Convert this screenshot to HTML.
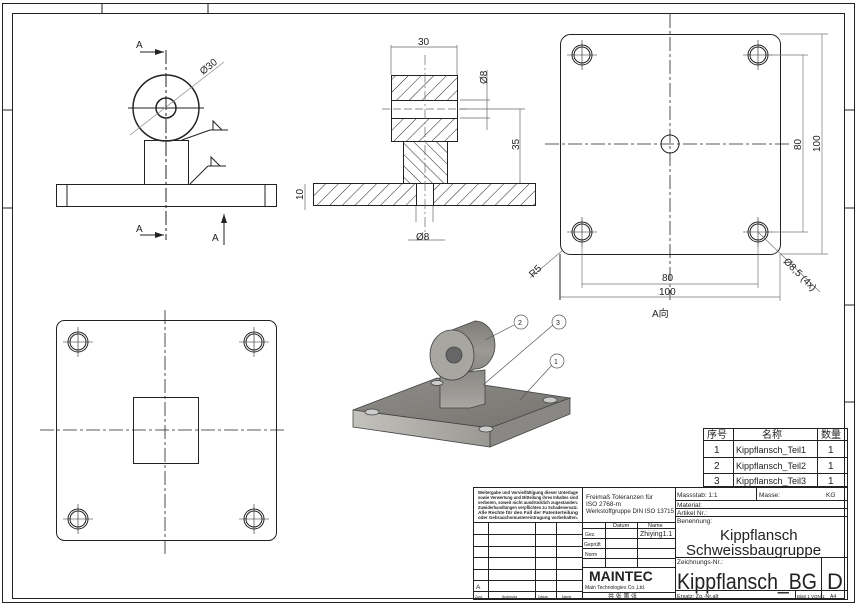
<!DOCTYPE html>
<html><head><meta charset="utf-8"><style>
html,body{margin:0;padding:0;background:#fff}
svg{display:block}
text{font-family:"Liberation Sans","Noto Sans CJK SC",sans-serif;fill:#222}
</style></head><body>
<svg width="858" height="605" viewBox="0 0 858 605" xmlns="http://www.w3.org/2000/svg">
<defs>
<pattern id="h" width="9" height="9" patternUnits="userSpaceOnUse" patternTransform="rotate(45)"><line x1="0" y1="0" x2="0" y2="9" stroke="#222" stroke-width="1"/></pattern>
<pattern id="h2" width="8" height="8" patternUnits="userSpaceOnUse" patternTransform="rotate(-45)"><line x1="0" y1="0" x2="0" y2="8" stroke="#222" stroke-width="1"/></pattern>
<linearGradient id="g1" x1="0" y1="0" x2="1" y2="1"><stop offset="0" stop-color="#8f8d89"/><stop offset="1" stop-color="#76746f"/></linearGradient>
<linearGradient id="g2" x1="0" y1="0" x2="1" y2="0"><stop offset="0" stop-color="#c4c2bd"/><stop offset="1" stop-color="#9a9893"/></linearGradient>
<linearGradient id="g3" x1="0" y1="0" x2="0" y2="1"><stop offset="0" stop-color="#8a8884"/><stop offset="1" stop-color="#a9a7a2"/></linearGradient>
<linearGradient id="g4" x1="0" y1="0" x2="0" y2="1"><stop offset="0" stop-color="#7e7c78"/><stop offset=".5" stop-color="#9c9a95"/><stop offset="1" stop-color="#85837f"/></linearGradient>
<g id="hs" fill="none" stroke="#222"><circle r="10"/><circle r="8"/><line x1="-15" y1="0" x2="15" y2="0" stroke-width=".6"/><line x1="0" y1="-15" x2="0" y2="15" stroke-width=".6"/></g>
</defs>
<g fill="none" stroke="#222" stroke-width="1">
<rect x="2.5" y="3.5" width="852" height="599"/>
<rect x="12.5" y="13.5" width="832" height="585"/>
<line x1="102" y1="4" x2="102" y2="13"/><line x1="208" y1="4" x2="208" y2="13"/>
<line x1="3" y1="110" x2="12" y2="110"/><line x1="3" y1="208" x2="12" y2="208"/>
<line x1="845" y1="110" x2="854" y2="110"/><line x1="845" y1="208" x2="854" y2="208"/><line x1="845" y1="305" x2="854" y2="305"/><line x1="845" y1="402" x2="854" y2="402"/>
</g>
<!-- front view -->
<g fill="none" stroke="#222" stroke-width="1">
<circle cx="166" cy="108" r="33" stroke-width="1.5"/>
<circle cx="166" cy="108" r="10" stroke-width="1.5"/>
<line x1="128" y1="108" x2="204" y2="108"/>
<line x1="166" y1="50" x2="166" y2="240" stroke-dasharray="14,3,3,3"/>
<rect x="144.5" y="140.5" width="44" height="44"/>
<rect x="56.5" y="184.5" width="220" height="22"/>
<line x1="67" y1="185" x2="67" y2="206"/><line x1="265" y1="185" x2="265" y2="206"/>
<line x1="130" y1="135" x2="224" y2="62" stroke="#888" stroke-width=".7"/>
<line x1="140" y1="52" x2="164" y2="52"/><line x1="140" y1="235" x2="164" y2="235"/>
<line x1="224" y1="214" x2="224" y2="245"/>
<line x1="182" y1="140" x2="210" y2="130"/><line x1="210" y1="130" x2="228" y2="130"/><path d="M213 130 L213 121 L222 130"/>
<line x1="190" y1="184" x2="208" y2="166"/><line x1="208" y1="166" x2="226" y2="166"/><path d="M211 166 L211 157 L220 166"/>
</g>
<path d="M155 49 L164 52 L155 55Z M155 232 L164 235 L155 238Z M221 223 L224 214 L227 223Z" fill="#222"/>
<text x="136" y="48" font-size="10">A</text><text x="136" y="232" font-size="10">A</text><text x="212" y="241" font-size="10">A</text>
<text x="203" y="75" font-size="10" fill="#666" transform="rotate(-38 203 75)">Ø30</text>
<!-- section view -->
<g stroke="#222" stroke-width="1">
<rect x="391.5" y="75.5" width="66" height="66" fill="url(#h)"/>
<rect x="391.5" y="100.5" width="66" height="18" fill="#fff"/>
<rect x="403.5" y="141.5" width="44" height="42" fill="url(#h2)"/>
<rect x="313.5" y="183.5" width="222" height="22" fill="url(#h)"/>
<rect x="416.5" y="183.5" width="17" height="22" fill="#fff"/>
</g>
<g fill="none" stroke="#666" stroke-width=".7">
<line x1="391" y1="45" x2="391" y2="75"/><line x1="457" y1="45" x2="457" y2="75"/><line x1="391" y1="47" x2="457" y2="47"/>
<line x1="425" y1="55" x2="425" y2="240" stroke-dasharray="10,3,2,3"/>
<line x1="382" y1="109" x2="470" y2="109" stroke-dasharray="8,3"/>
<line x1="460" y1="100" x2="490" y2="100"/><line x1="460" y1="118" x2="490" y2="118"/><line x1="487" y1="70" x2="487" y2="130"/>
<line x1="460" y1="109" x2="525" y2="109"/><line x1="520" y1="109" x2="520" y2="183"/>
<line x1="305" y1="184" x2="305" y2="210"/>
<line x1="416" y1="206" x2="416" y2="222"/><line x1="433" y1="206" x2="433" y2="222"/><line x1="408" y1="240" x2="445" y2="240"/>
</g>
<text x="418" y="45" font-size="10" fill="#444">30</text>
<text x="487" y="84" font-size="10" fill="#444" transform="rotate(-90 487 84)">Ø8</text>
<text x="519" y="150" font-size="10" fill="#444" transform="rotate(-90 519 150)">35</text>
<text x="303" y="200" font-size="10" fill="#444" transform="rotate(-90 303 200)">10</text>
<text x="416" y="240" font-size="10" fill="#444">Ø8</text>
<!-- A view -->
<g fill="none" stroke="#222" stroke-width="1">
<rect x="560.5" y="34.5" width="220" height="220" rx="10"/>
<circle cx="670" cy="144" r="9"/>
<use href="#hs" x="582" y="55"/><use href="#hs" x="758" y="55"/><use href="#hs" x="582" y="232"/><use href="#hs" x="758" y="232"/>
<line x1="670" y1="14" x2="670" y2="300" stroke-dasharray="14,3,3,3" stroke-width=".8"/>
<line x1="545" y1="144" x2="792" y2="144" stroke-dasharray="14,3,3,3" stroke-width=".8"/>
<line x1="560" y1="254" x2="560" y2="300"/>
</g>
<g fill="none" stroke="#777" stroke-width=".7">
<line x1="770" y1="55" x2="808" y2="55"/><line x1="770" y1="232" x2="808" y2="232"/><line x1="803" y1="55" x2="803" y2="232"/>
<line x1="780" y1="34" x2="828" y2="34"/><line x1="780" y1="254" x2="828" y2="254"/><line x1="822" y1="34" x2="822" y2="254"/>
<line x1="582" y1="245" x2="582" y2="288"/><line x1="758" y1="245" x2="758" y2="288"/><line x1="582" y1="284" x2="758" y2="284"/>
<line x1="780" y1="254" x2="780" y2="301"/><line x1="560" y1="297" x2="780" y2="297"/>
<line x1="758" y1="232" x2="820" y2="292"/><line x1="530" y1="278" x2="563" y2="250"/>
</g>
<text x="662" y="281" font-size="10" fill="#444">80</text><text x="659" y="295" font-size="10" fill="#444">100</text>
<text x="801" y="150" font-size="10" fill="#444" transform="rotate(-90 801 150)">80</text>
<text x="820" y="152" font-size="10" fill="#444" transform="rotate(-90 820 152)">100</text>
<text x="783" y="262" font-size="10" fill="#444" transform="rotate(45 783 262)">Ø8,5 (4x)</text>
<text x="533" y="278" font-size="10" fill="#444" transform="rotate(-45 533 278)">R5</text>
<text x="652" y="317" font-size="10">A向</text>
<!-- top view -->
<g fill="none" stroke="#222" stroke-width="1">
<rect x="56.5" y="320.5" width="220" height="220" rx="8"/>
<rect x="133.5" y="397.5" width="65" height="66"/>
<use href="#hs" x="78" y="342"/><use href="#hs" x="254" y="342"/><use href="#hs" x="78" y="519"/><use href="#hs" x="254" y="519"/>
<line x1="165" y1="310" x2="165" y2="555" stroke-dasharray="14,3,3,3" stroke-width=".8"/>
<line x1="40" y1="430" x2="285" y2="430" stroke-dasharray="14,3,3,3" stroke-width=".8"/>
</g>
<!-- iso view -->
<g stroke="#444" stroke-width=".8">
<path d="M353 410 L437 378 L570 398 L490 428 Z" fill="url(#g1)"/>
<path d="M353 410 L490 428 L490 447 L353 427 Z" fill="url(#g2)"/>
<path d="M490 428 L570 398 L570 414 L490 447 Z" fill="#8a8884"/>
<path d="M440 375 L485 370 L485 404 L470 408 L440 408 Z" fill="url(#g3)"/>
<path d="M452 330 L475 321 A20 24 0 0 1 475 369 L452 380 Z" fill="url(#g4)"/>
<ellipse cx="452" cy="355" rx="22" ry="25" fill="#a8a6a1"/>
<circle cx="454" cy="355" r="8" fill="#666"/>
<ellipse cx="372" cy="412" rx="7" ry="3" fill="#ccc"/><ellipse cx="437" cy="383" rx="6" ry="2.5" fill="#ccc"/><ellipse cx="550" cy="400" rx="7" ry="3" fill="#ccc"/><ellipse cx="486" cy="429" rx="7" ry="3" fill="#ccc"/>
</g>
<g fill="#fff" stroke="#555" stroke-width=".7">
<line x1="485" y1="340" x2="514" y2="325"/><line x1="483" y1="385" x2="553" y2="325"/><line x1="520" y1="400" x2="552" y2="365"/>
<circle cx="521" cy="322" r="7"/><circle cx="559" cy="322" r="7"/><circle cx="557" cy="361" r="7"/>
</g>
<text x="518" y="325" font-size="7">2</text><text x="556" y="325" font-size="7">3</text><text x="554" y="364" font-size="7">1</text>
<!-- BOM -->
<g fill="none" stroke="#222" stroke-width="1">
<rect x="703.5" y="428.5" width="144" height="58"/>
<line x1="703" y1="440.5" x2="848" y2="440.5"/><line x1="703" y1="457.5" x2="848" y2="457.5"/><line x1="703" y1="473.5" x2="848" y2="473.5"/>
<line x1="733.5" y1="428" x2="733.5" y2="487"/><line x1="817.5" y1="428" x2="817.5" y2="487"/>
</g>
<g font-size="10">
<text x="707" y="438">序号</text><text x="762" y="438">名称</text><text x="821" y="438">数量</text>
<text x="714" y="453">1</text><text x="736" y="453" font-size="9">Kippflansch_Teil1</text><text x="828" y="453">1</text>
<text x="714" y="469">2</text><text x="736" y="469" font-size="9">Kippflansch_Teil2</text><text x="828" y="469">1</text>
<text x="714" y="484">3</text><text x="736" y="484" font-size="9">Kippflansch_Teil3</text><text x="828" y="484">1</text>
</g>
<!-- title block -->
<g fill="none" stroke="#222" stroke-width="1">
<rect x="473.5" y="487.5" width="374" height="112"/>
<line x1="582.5" y1="487" x2="582.5" y2="600"/><line x1="675.5" y1="487" x2="675.5" y2="600"/>
<line x1="473" y1="522.5" x2="582" y2="522.5"/>
<line x1="473" y1="534.5" x2="582" y2="534.5"/><line x1="473" y1="546.5" x2="582" y2="546.5"/><line x1="473" y1="557.5" x2="582" y2="557.5"/><line x1="473" y1="569.5" x2="582" y2="569.5"/><line x1="473" y1="580.5" x2="582" y2="580.5"/><line x1="473" y1="591.5" x2="582" y2="591.5"/>
<line x1="488.5" y1="522" x2="488.5" y2="600"/><line x1="535.5" y1="522" x2="535.5" y2="600"/><line x1="556.5" y1="522" x2="556.5" y2="600"/>
<line x1="582" y1="522.5" x2="675" y2="522.5"/><line x1="582" y1="528.5" x2="675" y2="528.5"/><line x1="582" y1="538.5" x2="675" y2="538.5"/><line x1="582" y1="548.5" x2="675" y2="548.5"/><line x1="582" y1="558.5" x2="675" y2="558.5"/><line x1="582" y1="567.5" x2="675" y2="567.5"/><line x1="582" y1="592.5" x2="675" y2="592.5"/>
<line x1="605.5" y1="522" x2="605.5" y2="567"/><line x1="637.5" y1="522" x2="637.5" y2="567"/>
<line x1="675" y1="500.5" x2="848" y2="500.5"/><line x1="675" y1="508.5" x2="848" y2="508.5"/><line x1="675" y1="516.5" x2="848" y2="516.5"/><line x1="675" y1="557.5" x2="848" y2="557.5"/><line x1="675" y1="590.5" x2="848" y2="590.5"/>
<line x1="756.5" y1="487" x2="756.5" y2="500"/><line x1="821.5" y1="557" x2="821.5" y2="600"/><line x1="795.5" y1="590" x2="795.5" y2="600"/>
</g>
<g font-size="4.5" font-weight="bold">
<text x="478" y="494" textLength="100" lengthAdjust="spacingAndGlyphs">Weitergabe und Vervielfältigung dieser Unterlage</text>
<text x="478" y="499" textLength="100" lengthAdjust="spacingAndGlyphs">sowie Verwertung und Mitteilung ihres Inhaltes sind</text>
<text x="478" y="504" textLength="100" lengthAdjust="spacingAndGlyphs">verboten, soweit nicht ausdrücklich zugestanden.</text>
<text x="478" y="509" textLength="100" lengthAdjust="spacingAndGlyphs">Zuwiderhandlungen verpflichten zu Schadenersatz.</text>
<text x="478" y="514" textLength="100" lengthAdjust="spacingAndGlyphs">Alle Rechte für den Fall der Patenterteilung</text>
<text x="478" y="519" textLength="100" lengthAdjust="spacingAndGlyphs">oder Gebrauchsmustereintragung vorbehalten.</text>
</g>
<g font-size="6.5">
<text x="586" y="499">Freimaß Toleranzen für</text><text x="586" y="506">ISO 2768-m</text><text x="586" y="513" textLength="88" lengthAdjust="spacingAndGlyphs">Werkstoffgruppe DIN ISO 13715</text>
<text x="613" y="527" font-size="5.5">Datum</text><text x="648" y="527" font-size="5.5">Name</text>
<text x="585" y="536" font-size="5">Gez.</text><text x="640" y="536" font-size="7" font-family="Liberation Serif">Zhiying1.1</text>
<text x="584" y="546" font-size="5">Geprüft</text><text x="585" y="556" font-size="5">Norm</text>
<text x="677" y="497">Massstab: 1:1</text><text x="759" y="497">Masse:</text><text x="826" y="497">KG</text>
<text x="677" y="507">Material:</text><text x="677" y="515">Artikel Nr.:</text><text x="677" y="523">Benennung:</text>
<text x="677" y="564">Zeichnungs-Nr.:</text>
<text x="677" y="598" font-size="5.5">Ersatz: Zg.-Nr.alt</text><text x="797" y="598" font-size="4.5">Blatt 1 VON 1</text><text x="830" y="598" font-size="5">A4</text>
<text x="476" y="589">A</text>
<text x="475" y="598" font-size="3.5">Zust.</text><text x="502" y="598" font-size="3.5">Änderung</text><text x="538" y="598" font-size="3.5">Datum</text><text x="562" y="598" font-size="3.5">Name</text>
<text x="608" y="598" font-size="6">共 张 第 张</text>
</g>
<text x="589" y="581" font-size="14" font-weight="bold">MAINTEC</text>
<text x="585" y="589" font-size="5">Main Technologies Co.,Ltd.</text>
<text x="720" y="540" font-size="15">Kippflansch</text>
<text x="686" y="555" font-size="15">Schweissbaugruppe</text>
<text x="677" y="589" font-size="22" textLength="140" lengthAdjust="spacingAndGlyphs">Kippflansch_BG</text>
<text x="827" y="589" font-size="22">D</text>
</svg>
</body></html>
